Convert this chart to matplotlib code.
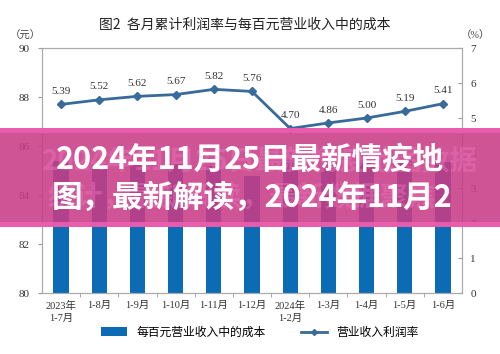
import matplotlib
matplotlib.use("Agg")
import matplotlib.pyplot as plt
from matplotlib.patches import Rectangle
from matplotlib.lines import Line2D
from matplotlib.patches import Patch

categories = ["2023年\n1-7月", "1-8月", "1-9月", "1-10月", "1-11月", "1-12月",
              "2024年\n1-2月", "1-3月", "1-4月", "1-5月", "1-6月"]
cost_per_100 = [85.37, 85.27, 85.27, 85.25, 85.19, 84.76, 85.41, 85.31, 85.35, 85.44, 85.35]
profit_rate = [5.39, 5.52, 5.62, 5.67, 5.82, 5.76, 4.70, 4.86, 5.00, 5.19, 5.41]
left_ticks = [80, 82, 84, 86, 88, 90]
right_ticks = [0, 1, 2, 3, 4, 5, 6, 7]

FAM = ["Liberation Serif", "Noto Sans CJK SC"]
CJK = ["Noto Sans CJK SC", "DejaVu Sans"]
plt.rcParams["font.family"] = FAM

fig = plt.figure(figsize=(5.0, 3.54), dpi=100)
fig.patch.set_facecolor("white")
ax = fig.add_axes([0.084, 0.1723, 0.84, 0.692])
x = list(range(len(categories)))
ax.bar(x, cost_per_100, width=0.4, color="#0b6bb5", zorder=2)
ax.set_ylim(80, 90)
ax.set_xlim(-0.5, len(categories) - 0.5)
ax.set_yticks(left_ticks)
ax.set_yticklabels([str(t) for t in left_ticks], fontsize=8, color="#333333")
ax.set_xticks(x)
ax.set_xticklabels(categories, fontsize=7.5, color="#333333", linespacing=1.3)
ax.tick_params(axis="x", length=0, pad=6)
ax.set_xticks([i + 0.5 for i in x[:-1]], minor=True)
ax.tick_params(axis="x", which="minor", length=3, color="#999999")
ax.tick_params(axis="y", length=3, color="#999999", pad=6)
for s in ax.spines.values():
    s.set_color("#aaaaaa")
    s.set_linewidth(0.8)

ax2 = ax.twinx()
ax2.plot(x, profit_rate, color="#386a9a", lw=2, marker="D", ms=4, zorder=3)
ax2.set_ylim(0, 7)
ax2.set_yticks(right_ticks)
ax2.set_yticklabels([str(t) for t in right_ticks], fontsize=8, color="#333333")
ax2.tick_params(axis="y", length=3, direction="in", color="#999999", pad=6)
for s in ax2.spines.values():
    s.set_color("#aaaaaa")
    s.set_linewidth(0.8)
for xi, v in zip(x, profit_rate):
    ax2.annotate(f"{v:.2f}", (xi, v), xytext=(0, 6), textcoords="offset points",
                 ha="center", va="bottom", fontsize=8, color="#333333")

fig.text(0.49, 0.93, "图2  各月累计利润率与每百元营业收入中的成本", ha="center", va="center",
         fontsize=10, color="#222222", family=CJK)
fig.text(0.05, 0.90, "（元）", ha="center", va="center", fontsize=7.5, color="#444444", family=FAM)
fig.text(0.95, 0.90, "（%）", ha="center", va="center", fontsize=7.5, color="#444444", family=FAM)

handles = [Patch(facecolor="#0b6bb5"),
           Line2D([0], [0], color="#386a9a", lw=2, marker="D", ms=3)]
fig.legend(handles, ["每百元营业收入中的成本", "营业收入利润率"], loc="center",
           bbox_to_anchor=(0.52, 0.06), ncol=2, frameon=False,
           handlelength=2.2, columnspacing=3.0, prop={"family": FAM, "size": 8.5})

# overlay banner
ov = fig.add_axes([0, 0, 1, 1], zorder=10)
ov.set_xlim(0, 500)
ov.set_ylim(354, 0)
ov.axis("off")
ov.add_patch(Rectangle((0, 128), 500, 99, facecolor="#c93c86", alpha=0.88, lw=0))
ov.add_patch(Rectangle((0, 128), 500, 5, facecolor="#ee5fb0", alpha=0.9, lw=0))
ov.add_patch(Rectangle((0, 222), 500, 5, facecolor="#ee5fb0", alpha=0.9, lw=0))
ov.text(478, 162, "2024年11月25日最新情疫地图数据", fontsize=20, fontweight="bold",
        color="#e870b8", alpha=0.5, family=CJK, va="center", ha="right")
ov.text(48, 198, "统计，最新解读，最新数据聚焦2", fontsize=20, fontweight="bold",
        color="#e870b8", alpha=0.5, family=CJK, va="center", ha="left")
ov.text(250, 160, "2024年11月25日最新情疫地", fontsize=22, fontweight="bold",
        color="white", family=CJK, va="center", ha="center")
ov.text(252, 198, "图，最新解读，2024年11月2", fontsize=22, fontweight="bold",
        color="white", family=CJK, va="center", ha="center")

fig.savefig("out.png", dpi=100)
